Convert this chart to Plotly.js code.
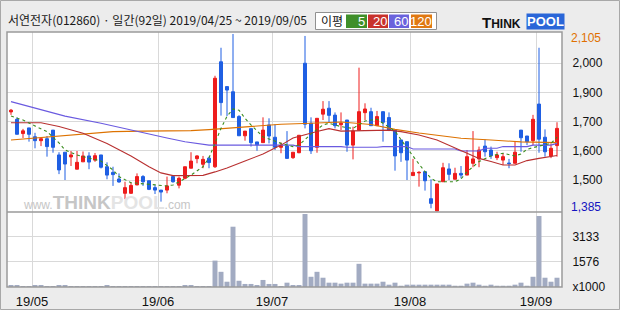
<!DOCTYPE html>
<html>
<head>
<meta charset="utf-8">
<script src="https://cdn.plot.ly/plotly-3.0.1.min.js"></script>
<style>html,body{margin:0;padding:0;background:#ececec;}#chart{width:620px;height:310px;}</style>
</head>
<body>
<div id="chart"></div>
<script>
// ---- data ----
const openP  = [1788,1758,1700,1723,1687,1671,1679,1714,1613,1624,1605,1555,1585,1609,1592,1613,1565,1542,1515,1457,1457,1491,1525,1508,1480,1470,1470,1525,1490,1518,1559,1598,1575,1600,1565,1992,1891,1870,1769,1691,1720,1666,1663,1735,1685,1644,1649,1602,1622,1986,1742,1644,1779,1803,1775,1736,1755,1653,1714,1785,1789,1732,1789,1765,1714,1674,1667,1529,1540,1545,1435,1385,1504,1556,1514,1538,1531,1579,1597,1649,1633,1602,1592,1580,1579,1714,1690,1671,1820,1685,1609,1651];
const highP  = [1800,1766,1719,1723,1703,1681,1690,1714,1624,1624,1629,1629,1627,1624,1621,1613,1583,1565,1538,1504,1500,1538,1531,1508,1490,1470,1525,1531,1525,1565,1624,1612,1609,1606,1935,2049,1891,2105,1775,1710,1720,1666,1766,1762,1738,1664,1710,1624,1693,2097,1766,1762,1832,1832,1786,1786,1755,1728,1968,1823,1805,1792,1789,1786,1714,1674,1667,1597,1547,1545,1514,1495,1581,1579,1561,1568,1633,1710,1647,1676,1647,1626,1620,1597,1667,1714,1690,1776,2049,1717,1660,1746];
const lowP   = [1776,1697,1682,1667,1640,1649,1606,1622,1535,1511,1568,1555,1585,1555,1585,1558,1514,1487,1500,1433,1455,1490,1487,1470,1454,1423,1457,1500,1477,1514,1559,1579,1559,1559,1560,1773,1771,1765,1691,1671,1647,1630,1663,1660,1633,1620,1599,1597,1620,1721,1617,1622,1755,1746,1721,1714,1626,1595,1714,1755,1732,1732,1667,1710,1549,1585,1511,1529,1484,1468,1396,1385,1504,1511,1514,1518,1531,1563,1563,1606,1597,1592,1572,1559,1579,1626,1653,1653,1622,1606,1600,1606];
const closeP = [1795,1697,1711,1697,1671,1679,1647,1644,1552,1576,1613,1583,1609,1584,1610,1563,1531,1533,1503,1480,1489,1525,1504,1473,1470,1462,1487,1504,1518,1565,1588,1609,1595,1582,1925,1826,1877,1765,1691,1710,1663,1654,1714,1690,1644,1651,1599,1624,1693,1738,1630,1762,1799,1774,1732,1742,1653,1710,1789,1800,1732,1769,1746,1714,1609,1622,1592,1542,1542,1508,1416,1495,1561,1534,1538,1531,1606,1597,1633,1626,1610,1613,1606,1578,1624,1683,1667,1758,1677,1626,1640,1721];
const volume = [125,125,63,63,125,125,63,63,125,125,63,63,63,63,63,63,125,63,63,63,63,63,63,63,63,63,63,63,63,125,125,63,63,63,1650,950,330,3770,390,190,190,125,440,190,190,63,270,125,125,4565,640,950,580,270,270,210,270,270,1450,210,210,210,330,145,270,80,145,145,145,145,145,145,145,145,80,80,210,270,145,80,145,80,80,80,145,270,80,640,4440,580,330,580];

const ma5X  = [0,2,4,6,8,9,11,14,15,17,18,20,22,24,26,27,28,30,32,33,35,36,37,38,39,40,42,43,45,47,48,50,52,53,55,57,59,61,63,64,66,67,68,69,70,71,74,75,76,78,80,82,84,85,86,88,90,91];
const ma5Y  = [1771,1755,1731,1708,1662,1633,1613,1596,1588,1552,1525,1500,1495,1491,1487,1491,1503,1531,1565,1601,1721,1770,1800,1795,1762,1735,1687,1678,1660,1647,1653,1698,1735,1742,1728,1721,1751,1758,1727,1710,1641,1606,1576,1545,1518,1504,1504,1515,1544,1586,1609,1620,1609,1617,1636,1649,1660,1685];
const ma20X = [0,5,8,12,16,20,23,25,27,32,34,36,39,42,45,47,51,53,55,60,63,65,68,71,75,78,80,82,84,86,88,91];
const ma20Y = [1744,1744,1729,1701,1660,1609,1565,1540,1529,1530,1544,1560,1588,1617,1653,1682,1708,1720,1710,1714,1714,1708,1694,1674,1633,1599,1586,1572,1572,1590,1599,1611];
const ma60X = [0,4,9,15,20,26,29,33,47,48,55,56,61,62,66,67,74,75,78,79,81,82,86,87,90,91];
const ma60Y = [1830,1803,1771,1742,1714,1682,1667,1653,1653,1647,1647,1644,1644,1647,1647,1637,1637,1629,1629,1640,1640,1647,1647,1653,1653,1660];
const ma120X = [0,7,13,17,22,30,33,37,39,45,50,55,60,64,68,72,75,80,85,91];
const ma120Y = [1674,1688,1701,1708,1710,1712,1716,1723,1727,1738,1742,1747,1737,1717,1702,1690,1681,1674,1666,1663];

const monthLabels = ['19/05','19/06','19/07','19/08','19/09'];
const monthStart  = [4,25,44,67,88];           // index of first trading day of each month
const priceGrid   = [1511,1630,1748,1867,1986];
const priceLabels = ['1,500','1,600','1,700','1,900','2,000'];
const volGrid     = [0,1576,3133];
const volLabels   = ['x1000','1576','3133'];
const priceMax = 2105, priceMin = 1385;
const title = '서연전자(012860) · 일간(92일) 2019/04/25 ~ 2019/09/05';

// ---- geometry helpers (pixels -> paper) ----
const PL=7, PR=562, PT=32, PB=287;
const px = x => (x-PL)/(PR-PL);
const py = y => (PB-y)/(PB-PT);

const idx = openP.map((_, i) => i);
const RED='#ee1c1c', BLUE='#1f5fe3';

const traces = [
  {type:'scatter', mode:'lines', x:ma120X, y:ma120Y, line:{color:'#dd7200', width:1.1}, hoverinfo:'skip'},
  {type:'scatter', mode:'lines', x:ma60X, y:ma60Y, line:{color:'#6a5ae0', width:1.1}, hoverinfo:'skip'},
  {type:'scatter', mode:'lines', x:ma20X, y:ma20Y, line:{color:'#b83030', width:1.1}, hoverinfo:'skip'},
  {type:'scatter', mode:'lines', x:ma5X, y:ma5Y, line:{color:'#3a8c1e', width:1.1, dash:'dot'}, hoverinfo:'skip'},
  {type:'candlestick', x:idx, open:openP, high:highP, low:lowP, close:closeP,
   increasing:{line:{color:RED, width:1}, fillcolor:RED},
   decreasing:{line:{color:BLUE, width:1}, fillcolor:BLUE},
   whiskerwidth:0, hoverinfo:'skip', xaxis:'x', yaxis:'y'},
  {type:'bar', x:idx, y:volume, xaxis:'x', yaxis:'y2', marker:{color:'#a2abc2'}, hoverinfo:'skip'}
];

const tickFont = {family:'Liberation Sans, Arial, sans-serif', size:12, color:'#111'};
const gridC = '#d9d9d9';

const annotations = [
  {xref:'paper', yref:'paper', x:px(6), y:py(20), xanchor:'left', yanchor:'middle', showarrow:false,
   text:title, font:{family:'Noto Sans CJK KR', size:12, color:'#1a1a1a'}},
  {xref:'paper', yref:'y', x:1, xshift:7, y:priceMax, yshift:-4, xanchor:'left', yanchor:'middle', showarrow:false,
   text:priceMax.toLocaleString('en-US'), font:Object.assign({}, tickFont, {color:'#e07000'})},
  {xref:'paper', yref:'y', x:1, xshift:7, y:priceMin, yshift:4, xanchor:'left', yanchor:'middle', showarrow:false,
   text:priceMin.toLocaleString('en-US'), font:Object.assign({}, tickFont, {color:'#1414c0'})},
  // MA legend
  {xref:'paper', yref:'paper', x:px(332), y:py(21), xanchor:'center', yanchor:'middle', showarrow:false,
   text:'이평', font:{family:'Noto Sans CJK KR', size:12, color:'#111'}},
  {xref:'paper', yref:'paper', x:px(367), y:py(21.5), xanchor:'right', yanchor:'middle', showarrow:false,
   text:'5', font:{family:'Liberation Sans', size:13, color:'#fff'}},
  {xref:'paper', yref:'paper', x:px(389), y:py(21.5), xanchor:'right', yanchor:'middle', showarrow:false,
   text:'20', font:{family:'Liberation Sans', size:13, color:'#fff'}},
  {xref:'paper', yref:'paper', x:px(410), y:py(21.5), xanchor:'right', yanchor:'middle', showarrow:false,
   text:'60', font:{family:'Liberation Sans', size:13, color:'#fff'}},
  {xref:'paper', yref:'paper', x:px(433.5), y:py(21.5), xanchor:'right', yanchor:'middle', showarrow:false,
   text:'120', font:{family:'Liberation Sans', size:13, color:'#fff'}},
  // logo
  {xref:'paper', yref:'paper', x:px(480), y:py(22.5), xanchor:'left', yanchor:'middle', showarrow:false,
   text:'<b>T<span style="font-size:12px">HINK</span></b>', font:{family:'Liberation Sans', size:15, color:'#111'}},
  {xref:'paper', yref:'paper', x:px(526), y:py(22), xanchor:'left', yanchor:'middle', showarrow:false,
   text:'<b>POOL</b>', bgcolor:'#2a66d8', borderpad:0, font:{family:'Liberation Sans', size:13, color:'#fff'}},
  // watermark
  {xref:'paper', yref:'paper', x:px(21), y:py(202), xanchor:'left', yanchor:'middle', showarrow:false,
   text:'<span style="font-size:12px">www.</span><b>THINK</b><b><span style="color:#e4e4e4">POOL</span></b><span style="font-size:12px">.com</span>',
   font:{family:'Liberation Sans', size:19, color:'#c6c6c6'}}
];

const shapes = [
  // legend box
  {type:'rect', xref:'paper', yref:'paper', x0:px(315.5), x1:px(436.5), y0:py(12.5), y1:py(29.5), line:{color:'#909090', width:1}, fillcolor:'#ffffff', layer:'above'},
  {type:'rect', xref:'paper', yref:'paper', x0:px(346), x1:px(367), y0:py(14.5), y1:py(28), line:{width:0}, fillcolor:'#3f8f2a', layer:'above'},
  {type:'rect', xref:'paper', yref:'paper', x0:px(368), x1:px(388), y0:py(14.5), y1:py(28), line:{width:0}, fillcolor:'#c8322c', layer:'above'},
  {type:'rect', xref:'paper', yref:'paper', x0:px(389), x1:px(409), y0:py(14.5), y1:py(28), line:{width:0}, fillcolor:'#6a62dc', layer:'above'},
  {type:'rect', xref:'paper', yref:'paper', x0:px(411), x1:px(432), y0:py(14.5), y1:py(28), line:{width:0}, fillcolor:'#e07812', layer:'above'},
  // plot frame and panel separator
  {type:'rect', xref:'paper', yref:'paper', x0:0, x1:1, y0:0, y1:1, line:{color:'#9a9a9a', width:1.5}, layer:'above'},
  {type:'line', xref:'paper', yref:'paper', x0:0, x1:1, y0:py(212), y1:py(212), line:{color:'#9a9a9a', width:1.5}, layer:'above'},
  // outer frame
  {type:'rect', xref:'paper', yref:'paper', x0:px(0.5), x1:px(619.5), y0:py(309.5), y1:py(0.5), line:{color:'#a8a8a8', width:1}, layer:'above'}
];

const layout = {
  width:620, height:310,
  margin:{l:PL, r:620-PR, t:PT, b:310-PB, pad:0},
  paper_bgcolor:'#ececec', plot_bgcolor:'#ffffff',
  showlegend:false, bargap:0.17, boxgap:0.28,
  xaxis:{range:[(PL-11)/6, (PR-11)/6], tickvals:monthStart.map(v => v-0.5), ticktext:monthLabels,
         showgrid:true, gridcolor:gridC, gridwidth:1, zeroline:false, showline:false, ticks:'outside', ticklen:2,
         tickcolor:'rgba(0,0,0,0)',
         tickfont:Object.assign({}, tickFont, {size:13}), rangeslider:{visible:false}, anchor:'y2', fixedrange:true},
  yaxis:{domain:[75/255, 1], range:[1380.9, 2113.1], side:'right', tickvals:priceGrid, ticktext:priceLabels,
         showgrid:true, gridcolor:gridC, zeroline:false, showline:false, ticks:'outside', ticklen:7,
         tickcolor:'rgba(0,0,0,0)', tickfont:tickFont, fixedrange:true},
  yaxis2:{domain:[0, 75/255], range:[0, 4690], side:'right', tickvals:volGrid, ticktext:volLabels,
          showgrid:true, gridcolor:gridC, zeroline:false, showline:false, ticks:'outside', ticklen:7,
          tickcolor:'rgba(0,0,0,0)', tickfont:tickFont, fixedrange:true},
  annotations:annotations, shapes:shapes
};

Plotly.newPlot('chart', traces, layout, {staticPlot:true, displayModeBar:false});
</script>
</body>
</html>
